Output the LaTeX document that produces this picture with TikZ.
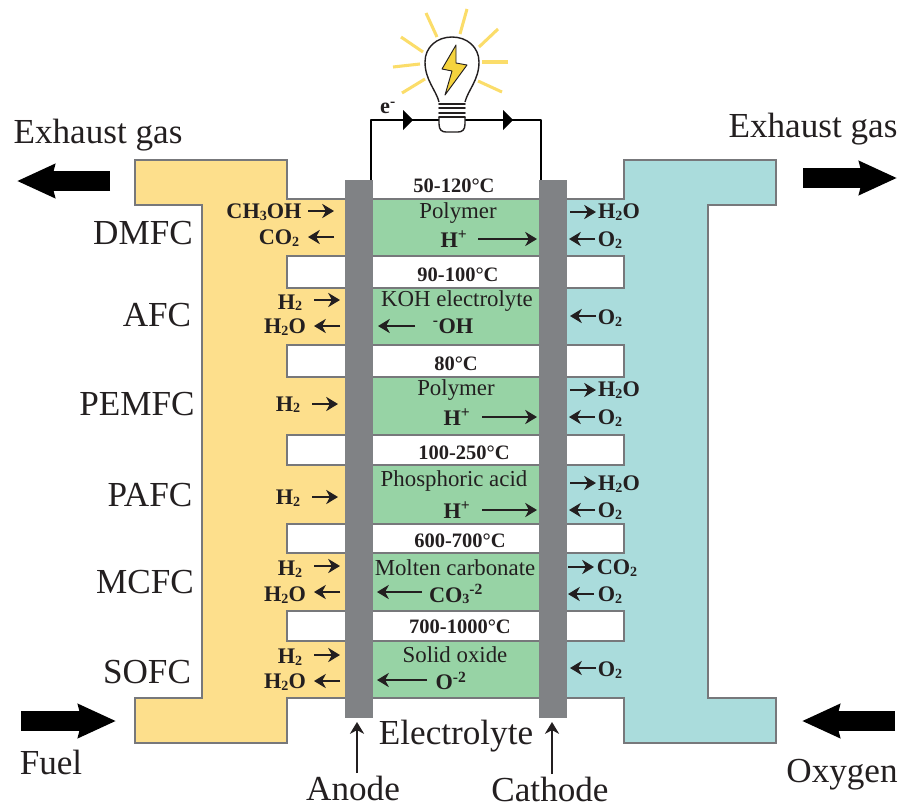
\documentclass[tikz,border=0pt]{standalone}
\usepackage{fontspec}
\setmainfont{Liberation Serif}
\usepackage{xcolor}
\usetikzlibrary{arrows.meta}
\definecolor{fuelyellow}{HTML}{FDDF8C}
\definecolor{oxyteal}{HTML}{AADCDC}
\definecolor{cellgreen}{HTML}{97D3A5}
\definecolor{wallgray}{HTML}{77787B}
\definecolor{plategray}{HTML}{808285}
\definecolor{raysyellow}{HTML}{FBDD6A}
\definecolor{boltyellow}{HTML}{F5D33D}
\definecolor{inkblack}{HTML}{231F20}
\newcommand{\lowidx}[1]{{\fontsize{12}{12}\selectfont\raisebox{-1.2pt}{#1}}}
\tikzset{
  wall/.style={draw=wallgray, line width=2.5pt, line join=miter},
  bigtext/.style={font=\fontsize{30}{30}\selectfont, text=inkblack, inner sep=0pt},
  cellname/.style={font=\fontsize{19.5}{20}\selectfont, text=inkblack, inner sep=0pt},
  chem/.style={font=\fontsize{19}{20}\selectfont\bfseries, text=inkblack, inner sep=0pt},
  temp/.style={font=\fontsize{17.5}{18}\selectfont\bfseries, text=inkblack, inner sep=0pt},
  flow/.style={draw=inkblack, line width=2.2pt, -{Stealth[length=10pt, width=12pt, inset=3pt]}},
  bigflow/.style={draw=black, line width=17pt, -{Stealth[length=32pt, width=28pt, inset=3pt]}},
  wire/.style={draw=black, line width=2.2pt},
  ray/.style={draw=raysyellow, line width=2.6pt},
  bulb/.style={draw=inkblack, line width=1.2pt, fill=white}
}
\begin{document}
\begin{tikzpicture}[x=0.03cm, y=-0.03cm]
  \useasboundingbox (0,0) rectangle (901,808);

  % === fuel and oxygen channels ===
  \draw[wall, fill=fuelyellow] (135,160) -- (287,160) -- (287,199) -- (350,199) -- (350,256)
    -- (287,256) -- (287,288) -- (350,288) -- (350,345)
    -- (287,345) -- (287,377) -- (350,377) -- (350,435)
    -- (287,435) -- (287,465) -- (350,465) -- (350,524)
    -- (287,524) -- (287,553) -- (350,553) -- (350,611)
    -- (287,611) -- (287,641) -- (350,641) -- (350,698)
    -- (287,698) -- (287,743) -- (135,743) -- (135,698) -- (202,698)
    -- (202,205) -- (135,205) -- cycle;
  \draw[wall, fill=oxyteal] (776,160) -- (624,160) -- (624,199) -- (560,199) -- (560,256)
    -- (624,256) -- (624,288) -- (560,288) -- (560,345)
    -- (624,345) -- (624,377) -- (560,377) -- (560,435)
    -- (624,435) -- (624,465) -- (560,465) -- (560,524)
    -- (624,524) -- (624,553) -- (560,553) -- (560,611)
    -- (624,611) -- (624,641) -- (560,641) -- (560,698)
    -- (624,698) -- (624,743) -- (776,743) -- (776,698) -- (708,698)
    -- (708,205) -- (776,205) -- cycle;

  % === electrolyte cells ===
  \foreach \ya/\yb in {199/256, 288/345, 377/435, 465/524, 553/611, 641/698} {
    \draw[wall, fill=cellgreen] (360,\ya) rectangle (550,\yb);
  }

  % electrodes
  \fill[plategray] (345,180) rectangle (373,718);
  \fill[plategray] (539,180) rectangle (567,718);

  % === circuit and lamp ===
  \coordinate (anodetop) at (371,180);
  \coordinate (cornerleft) at (371,120);
  \coordinate (cornerright) at (541,120);
  \coordinate (cathodetop) at (541,180);
  \draw[wire, line join=round] (anodetop) -- (cornerleft) -- (cornerright) -- (cathodetop);
  \fill[black] (403,110) -- (413,120) -- (403,130) -- cycle;
  \fill[black] (503,110) -- (513,120) -- (503,130) -- cycle;
  \node[chem] (electron) at (388,108) {e\textsuperscript{-}};

  \foreach \xa/\ya/\xb/\yb in {426/13/437/37, 467/9/460/34, 498/29/479/47, 508/62/482/62,
    502/92/478/81, 425/79/402/93, 420/64/393/67, 423/52/401/37} {
    \draw[ray] (\xa,\ya) -- (\xb,\yb);
  }
  \draw[bulb] (439,117) -- (439,124) .. controls (439,130) and (442,132) .. (446,132)
    -- (458,132) .. controls (462,132) and (465,130) .. (465,124) -- (465,117);
  \draw[bulb] (439,102) .. controls (436,90) and (425,80) .. (425,62)
    .. controls (425,47) and (437,37) .. (452,37)
    .. controls (467,37) and (479,47) .. (479,62)
    .. controls (479,80) and (468,90) .. (465,102);
  \foreach \y in {104,108,113,117} {
    \draw[inkblack, line width=1.4pt, line cap=round] (439,\y) -- (465,\y);
  }
  \draw[draw=inkblack, line width=0.8pt, fill=boltyellow, line join=round] (456,45) -- (442,69) -- (452,71)
    -- (445,95) -- (467,65) -- (456,63) -- cycle;

  % === big labels ===
  \foreach \name/\x/\y/\txt in {dmfc/143/233/DMFC, afc/157/315/AFC, pemfc/137/404/PEMFC,
    pafc/150/495/PAFC, mcfc/145/582/MCFC, sofc/147/672/SOFC,
    exhaustleft/98/135/{Exhaust gas}, exhaustright/813/129/{Exhaust gas},
    fuel/51/762/Fuel, oxygen/842/775/Oxygen, electrolyte/456/736/Electrolyte,
    anode/353/788/Anode, cathode/550/789/Cathode} {
    \node[bigtext] (\name) at (\x,\y) {\txt};
  }

  % === cell contents ===
  \foreach \name/\y/\txt/\tx in {a/186/50-120°C/454, b/275/90-100°C/458, c/364/80°C/456,
    d/453/100-250°C/464, e/541/600-700°C/460, f/627/700-1000°C/460} {
    \node[temp] (temp\name) at (\tx,\y) {\txt};
  }
  \foreach \name/\x/\y/\txt in {a/458/213/Polymer, b/457/301/{KOH electrolyte}, c/456/390/Polymer,
    d/454/481/{Phosphoric acid}, e/455/568/{Molten carbonate}, f/455/655/{Solid oxide}} {
    \node[cellname] (cell\name) at (\x,\y) {\txt};
  }

  \foreach \name/\x/\y/\txt in {
    ionA/454/239/{H\textsuperscript{+}}, ionB/453/326/{\textsuperscript{-}OH},
    ionC/457/417/{H\textsuperscript{+}}, ionD/457/510/{H\textsuperscript{+}},
    ionE/456/594/{CO\lowidx{3}\textsuperscript{-2}}, ionF/451/681/{O\textsuperscript{-2}},
    inA/264/212/{CH\lowidx{3}OH}, outA/279/238/{CO\lowidx{2}},
    inB/290/303/{H\lowidx{2}}, outB/285/327/{H\lowidx{2}O},
    inC/288/405/{H\lowidx{2}}, inD/288/498/{H\lowidx{2}},
    inE/290/569/{H\lowidx{2}}, outE/285/595/{H\lowidx{2}O},
    inF/290/657/{H\lowidx{2}}, outF/285/682/{H\lowidx{2}O},
    waterA/619/212/{H\lowidx{2}O}, oxyA/610/240/{O\lowidx{2}},
    oxyB/610/318/{O\lowidx{2}},
    waterC/619/390/{H\lowidx{2}O}, oxyC/610/418/{O\lowidx{2}},
    waterD/619/484/{H\lowidx{2}O}, oxyD/610/511/{O\lowidx{2}},
    carbonE/617/568/{CO\lowidx{2}}, oxyE/610/595/{O\lowidx{2}},
    oxyF/610/670/{O\lowidx{2}}} {
    \node[chem] (\name) at (\x,\y) {\txt};
  }

  % small arrows
  \foreach \name/\xa/\xb/\y in {
    ionA/478/537/239, ionB/415/378/326, ionC/482/537/417, ionD/482/537/510,
    ionE/422/377/592, ionF/427/377/680,
    inA/308/334/211, outA/334/308/237, inB/314/340/300, outB/340/314/326,
    inC/312/338/404, inD/312/338/497, inE/314/340/566, outE/340/314/592,
    inF/314/340/655, outF/340/314/681,
    waterA/570/596/212, oxyA/595/569/239, oxyB/596/570/316,
    waterC/570/596/390, oxyC/595/569/417, waterD/570/596/483, oxyD/595/569/510,
    carbonE/568/594/567, oxyE/594/568/594, oxyF/596/570/668} {
    \coordinate (\name start) at (\xa,\y);
    \coordinate (\name end) at (\xb,\y);
    \draw[flow] (\name start) -- (\name end);
  }
  \coordinate (anodefoot) at (357,773);
  \coordinate (anodetip) at (357,722);
  \coordinate (cathodefoot) at (552,774);
  \coordinate (cathodetip) at (552,722);
  \draw[flow] (anodefoot) -- (anodetip);
  \draw[flow] (cathodefoot) -- (cathodetip);

  % big arrows
  \foreach \name/\xa/\ya/\xb/\yb in {gasleft/110/181/17/181, gasright/803/178/897/178,
    fuelin/21/721/116/721, oxyin/895/721/802/721} {
    \coordinate (\name start) at (\xa,\ya);
    \coordinate (\name end) at (\xb,\yb);
    \draw[bigflow] (\name start) -- (\name end);
  }
\end{tikzpicture}
\end{document}
